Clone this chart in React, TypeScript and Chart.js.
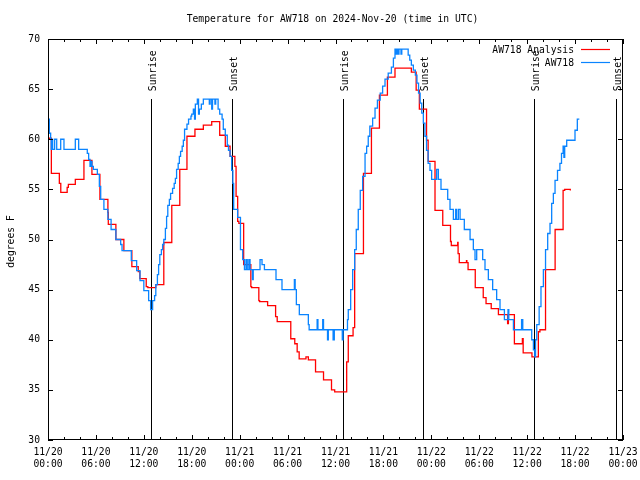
import React, { useEffect, useRef } from 'react';
import { Chart, registerables } from 'chart.js';

Chart.register(...registerables);

// Hours since 2024-11-20 00:00 UTC
const obsTimes = [
  0, 0.17, 0.33, 0.4, 0.45, 0.58, 0.83, 1.09, 1.59, 2.0, 3.42, 3.84, 4.92, 5.09, 5.26, 5.35, 5.5, 5.68, 6.18, 6.43,
  6.6, 7.0, 7.5, 7.9, 8.5, 9.1, 9.27, 10.43, 11.1, 11.52, 12.0, 12.6, 12.85, 13.1, 13.35, 13.5, 13.7, 13.85, 14.0, 14.2,
  14.35, 14.5, 14.7, 14.85, 15.0, 15.2, 15.35, 15.6, 15.8, 15.95, 16.1, 16.3, 16.45, 16.6, 16.8, 16.95, 17.1, 17.4, 17.6, 17.9,
  18.0, 18.2, 18.35, 18.45, 18.7, 18.85, 18.95, 19.2, 19.45, 20.2, 20.3, 20.5, 20.6, 20.9, 21.0, 21.3, 21.5, 21.8, 21.95, 22.2,
  22.45, 22.6, 22.8, 23.0, 23.15, 23.25, 23.75, 24.1, 24.38, 24.6, 24.8, 24.95, 25.15, 25.3, 25.6, 25.7, 26.55, 26.8, 27.1, 28.55,
  29.3, 30.85, 30.95, 31.1, 31.47, 32.6, 32.7, 33.7, 33.8, 34.4, 34.5, 35.0, 35.1, 35.7, 35.85, 36.85, 36.95, 37.5, 37.6, 37.9,
  38.15, 38.4, 38.6, 38.85, 39.1, 39.4, 39.7, 39.9, 40.1, 40.3, 40.65, 40.95, 41.25, 41.6, 41.9, 42.2, 42.6, 43.0, 43.25, 43.45,
  43.6, 43.7, 43.85, 43.95, 44.2, 44.3, 45.1, 45.3, 45.5, 45.75, 46.0, 46.2, 46.4, 46.6, 46.8, 47.0, 47.2, 47.4, 47.6, 47.83,
  48.04, 48.67, 48.88, 49.21, 50.05, 50.34, 50.76, 51.05, 51.15, 51.38, 51.6, 52.13, 52.85, 53.26, 53.47, 53.68, 54.43, 54.72, 55.14, 55.68,
  56.18, 56.6, 57.15, 57.6, 57.7, 58.28, 59.3, 59.45, 60.57, 60.78, 60.95, 61.05, 61.2, 61.5, 61.73, 62.03, 62.3, 62.57, 62.86, 63.07,
  63.28, 63.49, 63.8, 64.1, 64.3, 64.5, 64.6, 64.7, 64.95, 65.99, 66.28, 66.53,
];
const obsTemps = [
  62.0, 60.6, 60.0, 59.0, 60.0, 59.0, 60.0, 59.0, 60.0, 59.0, 60.0, 59.0, 58.6, 58.0, 57.3, 57.8, 57.3, 57.0, 56.5, 55.3,
  54.0, 53.0, 52.0, 51.0, 50.0, 49.5, 48.9, 47.9, 46.9, 45.9, 44.9, 43.9, 43.0, 43.9, 44.4, 45.5, 46.5, 47.5, 48.5, 49.0,
  49.5, 50.0, 51.1, 52.3, 53.4, 54.0, 54.6, 55.1, 55.6, 56.1, 57.0, 57.6, 58.3, 58.8, 59.3, 59.9, 61.0, 61.5, 62.0, 62.3,
  62.5, 63.0, 62.0, 63.5, 64.0, 62.5, 63.0, 63.5, 64.0, 63.5, 64.0, 63.0, 64.0, 63.5, 64.0, 63.0, 62.5, 62.0, 61.0, 60.4,
  59.4, 58.9, 58.3, 56.9, 55.6, 53.0, 52.2, 49.0, 48.0, 47.0, 48.0, 47.0, 48.0, 47.0, 46.0, 47.0, 48.0, 47.5, 47.0, 46.0,
  45.0, 46.0, 45.0, 43.5, 42.5, 41.5, 41.0, 42.0, 41.0, 42.0, 41.0, 40.0, 41.0, 40.0, 41.0, 40.0, 41.0, 42.0, 43.0, 45.0,
  47.0, 49.0, 51.0, 53.0, 54.9, 56.3, 58.6, 59.3, 60.3, 61.3, 62.1, 63.1, 63.9, 64.6, 65.3, 66.0, 66.6, 67.2, 68.1, 69.0,
  68.5, 69.0, 68.5, 69.0, 68.5, 69.0, 68.4, 67.9, 67.4, 66.9, 66.4, 65.6, 64.6, 63.6, 62.6, 61.6, 60.3, 58.9, 57.6, 56.9,
  56.0, 57.0, 56.0, 55.0, 54.0, 53.0, 52.0, 53.0, 52.0, 53.0, 52.0, 51.0, 50.0, 49.0, 48.0, 49.0, 48.0, 47.0, 46.0, 45.0,
  44.0, 43.0, 42.0, 43.0, 42.0, 41.0, 42.0, 41.0, 40.0, 39.0, 38.3, 40.0, 41.5, 43.3, 45.3, 47.0, 49.0, 50.6, 51.6, 53.6,
  54.6, 55.9, 56.9, 57.6, 58.6, 59.3, 58.2, 59.3, 59.9, 60.9, 62.0, 62.0,
];

const anaTimes = [
  0, 0.42, 1.42, 1.6, 2.4, 2.55, 3.42, 4.5, 5.5, 6.5, 7.5, 7.55, 8.5, 9.5, 10.5, 11.3, 11.5, 12.3, 12.5, 13.5,
  14.5, 15.5, 16.5, 17.4, 18.4, 19.45, 20.5, 21.5, 22.2, 22.8, 23.4, 23.55, 23.75, 23.9, 24.5, 25.4, 25.5, 26.4, 26.5, 27.5,
  28.5, 28.7, 30.4, 30.9, 31.2, 31.45, 32.3, 32.6, 33.5, 34.5, 35.5, 35.9, 37.4, 37.6, 38.2, 38.4, 39.5, 40.5, 41.5, 42.5,
  43.45, 45.5, 46.1, 46.5, 47.4, 47.6, 48.46, 49.43, 50.4, 50.5, 51.3, 51.35, 51.5, 52.4, 52.45, 52.6, 53.5, 54.5, 54.85, 55.5,
  56.4, 57.55, 57.65, 58.4, 59.4, 59.5, 60.6, 61.4, 61.6, 62.3, 63.5, 64.5, 64.7, 65.4,
];
const anaTemps = [
  60.1, 56.6, 55.6, 54.7, 55.2, 55.5, 56.0, 57.9, 56.5, 54.0, 52.7, 51.5, 50.0, 48.9, 47.3, 46.8, 46.1, 45.3, 45.2, 45.5,
  49.7, 53.4, 57.0, 60.3, 61.0, 61.4, 61.75, 60.4, 59.3, 58.3, 57.3, 54.3, 51.8, 51.6, 47.5, 45.3, 45.2, 43.9, 43.8, 43.4,
  42.3, 41.8, 40.1, 39.6, 38.8, 38.1, 38.3, 38.0, 36.8, 36.0, 35.0, 34.8, 37.8, 40.4, 41.2, 48.6, 56.6, 61.1, 64.4, 66.2,
  67.1, 66.7, 64.9, 63.0, 59.9, 57.8, 52.9, 51.4, 49.8, 49.4, 49.7, 48.6, 47.7, 47.9, 47.7, 47.0, 45.2, 44.2, 43.6, 43.1,
  42.5, 41.6, 42.5, 39.6, 40.1, 38.7, 38.3, 40.8, 41.0, 47.0, 51.0, 54.9, 55.0, 54.9,
];

const sunTimes = [12.9, 23.08, 36.9, 47.0, 60.9, 71.08];
const sunLabels = ['Sunrise', 'Sunset', 'Sunrise', 'Sunset', 'Sunrise', 'Sunset'];
const sunLineTop = 64; // degrees F (top of marker lines)

const tickDates = ['11/20', '11/21', '11/22', '11/23'];
const tickHours = ['00:00', '06:00', '12:00', '18:00'];

const titleText = 'Temperature for AW718 on 2024-Nov-20 (time in UTC)';
const yTitle = 'degrees F';
const seriesNames = ['AW718 Analysis', 'AW718'];
const seriesColors = ['#ff0000', '#0a84ff'];

const FONT = 'DejaVu Sans Mono';
const FSIZE = 9.7;

const decorPlugin = {
  id: 'decor',
  beforeDatasetsDraw(chart: any) {
    const { ctx, chartArea, scales } = chart;
    const x = scales.x;
    const y = scales.y;
    ctx.save();
    ctx.strokeStyle = '#000';
    ctx.lineWidth = 1;
    ctx.fillStyle = '#000';
    ctx.font = `${FSIZE}px "${FONT}"`;
    const pyTop = y.getPixelForValue(sunLineTop);
    sunTimes.forEach((t, i) => {
      const px = Math.round(x.getPixelForValue(t)) + 0.5;
      ctx.beginPath();
      ctx.moveTo(px, Math.round(pyTop));
      ctx.lineTo(px, chartArea.bottom);
      ctx.stroke();
      ctx.save();
      ctx.translate(px + 1.5, pyTop - 8);
      ctx.rotate(-Math.PI / 2);
      ctx.textAlign = 'left';
      ctx.textBaseline = 'middle';
      ctx.fillText(sunLabels[i], 0, 0);
      ctx.restore();
    });
    ctx.restore();
  },
  afterDatasetsDraw(chart: any) {
    const { ctx, chartArea, scales } = chart;
    const { left, right, top, bottom } = chartArea;
    const x = scales.x;
    const y = scales.y;
    ctx.save();
    ctx.strokeStyle = '#000';
    ctx.lineWidth = 1;
    // border
    ctx.strokeRect(left + 0.5, top + 0.5, right - left - 1, bottom - top - 1);
    // x ticks (inward, mirrored)
    ctx.beginPath();
    x.ticks.forEach((tk: any) => {
      const px = Math.round(x.getPixelForValue(tk.value)) + 0.5;
      const len = tk.value % 6 === 0 ? 5 : 3;
      ctx.moveTo(px, bottom);
      ctx.lineTo(px, bottom - len);
      ctx.moveTo(px, top);
      ctx.lineTo(px, top + len);
    });
    y.ticks.forEach((tk: any) => {
      const py = Math.round(y.getPixelForValue(tk.value)) + 0.5;
      ctx.moveTo(left, py);
      ctx.lineTo(left + 5, py);
      ctx.moveTo(right, py);
      ctx.lineTo(right - 5, py);
    });
    ctx.stroke();

    ctx.fillStyle = '#000';
    ctx.font = `${FSIZE}px "${FONT}"`;
    // title
    ctx.textAlign = 'center';
    ctx.textBaseline = 'middle';
    ctx.fillText(titleText, (left + right) / 2 - 3, 19);
    // y title
    ctx.save();
    ctx.translate(11, (top + bottom) / 2 + 2);
    ctx.rotate(-Math.PI / 2);
    ctx.fillText(yTitle, 0, 0);
    ctx.restore();
    // legend
    const rows = [49.5, 62.5];
    seriesNames.forEach((name, i) => {
      ctx.textAlign = 'right';
      ctx.fillStyle = '#000';
      ctx.fillText(name, right - 49, rows[i] + 0.5);
      ctx.strokeStyle = seriesColors[i];
      ctx.lineWidth = 1.2;
      ctx.beginPath();
      ctx.moveTo(right - 42, rows[i]);
      ctx.lineTo(right - 13, rows[i]);
      ctx.stroke();
    });
    ctx.restore();
  },
};

export default function App() {
  const canvasRef = useRef<HTMLCanvasElement | null>(null);

  useEffect(() => {
    if (!canvasRef.current) return;
    const font = { family: FONT, size: FSIZE, lineHeight: 1.2 };
    const chart = new Chart(canvasRef.current, {
      type: 'line',
      data: {
        datasets: [
          {
            label: seriesNames[0],
            data: anaTimes.map((t, i) => ({ x: t, y: anaTemps[i] })),
            borderColor: seriesColors[0],
            borderWidth: 1.3,
            stepped: true,
            pointRadius: 0,
            fill: false,
            order: 1,
          },
          {
            label: seriesNames[1],
            data: obsTimes.map((t, i) => ({ x: t, y: obsTemps[i] })),
            borderColor: seriesColors[1],
            borderWidth: 1.3,
            stepped: true,
            pointRadius: 0,
            fill: false,
            order: 0,
          },
        ],
      },
      options: {
        animation: false,
        responsive: false,
        maintainAspectRatio: false,
        layout: { padding: { left: 0, right: 17, top: 39, bottom: 0 } },
        plugins: {
          legend: { display: false },
          title: { display: false },
          tooltip: { enabled: false },
        },
        scales: {
          x: {
            type: 'linear',
            min: 0,
            max: 72,
            grid: { display: false, drawTicks: false },
            border: { display: false },
            ticks: {
              stepSize: 2,
              autoSkip: false,
              maxRotation: 0,
              minRotation: 0,
              padding: 7,
              color: '#000',
              font,
              callback: (v: any) => {
                const n = Number(v);
                if (n % 6 !== 0) return '';
                return [tickDates[Math.floor(n / 24)], tickHours[(n % 24) / 6]];
              },
            },
            afterFit: (s: any) => {
              s.height = 40;
              s.paddingLeft = 0;
              s.paddingRight = 0;
            },
          },
          y: {
            min: 30,
            max: 70,
            grid: { display: false, drawTicks: false },
            border: { display: false },
            ticks: { stepSize: 5, padding: 8, color: '#000', font },
            afterFit: (s: any) => {
              s.width = 48;
              s.paddingTop = 0;
              s.paddingBottom = 0;
            },
          },
        },
      },
      plugins: [decorPlugin],
    } as any);
    return () => chart.destroy();
  }, []);

  return (
    <div style={{ position: 'absolute', left: 0, top: 0, width: 640, height: 480, background: '#fff' }}>
      <canvas ref={canvasRef} width={640} height={480} />
    </div>
  );
}
